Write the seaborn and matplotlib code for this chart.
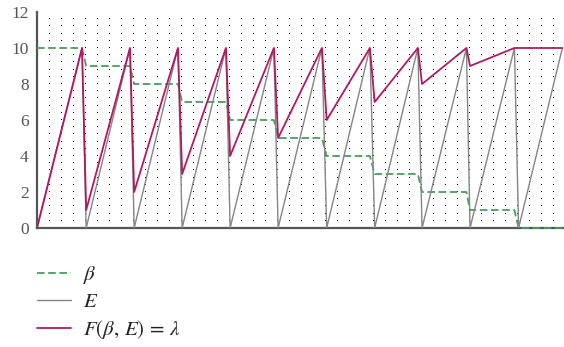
import numpy as np
import pandas as pd
import matplotlib
matplotlib.use("Agg")
import matplotlib.pyplot as plt
import seaborn as sns

# values (x in grid steps, y in units)
time = [0, 3.75, 4.1, 7.75, 8.1, 11.75, 12.1, 15.75, 16.1, 19.75, 20.1,
        23.75, 24.15, 27.75, 28.15, 31.75, 32.1, 35.8, 36.1, 39.8, 40.15, 43.8]
beta = [10, 10, 9, 9, 8, 8, 7, 7, 6, 6, 5, 5, 4, 4, 3, 3, 2, 2, 1, 1, 0, 0]
energy = [0, 10, 0, 10, 0, 10, 0, 10, 0, 10, 0, 10, 0, 10, 0, 10, 0, 10, 0, 10, 0, 10]
lam = [0, 10, 1, 10, 2, 10, 3, 10, 4, 10, 5, 10, 6, 10, 7, 10, 8, 10, 9, 10, 10, 10]
yticks = [0, 2, 4, 6, 8, 10, 12]

df = pd.DataFrame({"t": time, "beta": beta, "E": energy, "F": lam})

sns.set_style("white")
plt.rcParams["font.family"] = ["Liberation Serif", "DejaVu Serif"]
plt.rcParams["mathtext.fontset"] = "stix"

fig = plt.figure(figsize=(5.64, 3.47), dpi=100)
ax = fig.add_axes([37 / 564, 119 / 347, 526 / 564, 216 / 347])

# dot lattice background, one pixel per grid crossing
gx, gy = np.meshgrid(np.arange(1, 44, 1.0), np.arange(0.4, 12.01, 0.4))
ax.plot(gx.ravel(), gy.ravel(), ",", color="#000000", zorder=0)

green = "#4a9e5e"
gray = "#858585"
crimson = "#b11a5f"

sns.lineplot(data=df, x="t", y="beta", ax=ax, color=green, lw=1.3,
             estimator=None, label=r"$\beta$", zorder=3, clip_on=False)
ax.lines[-1].set_dashes((4.2, 2.0))
sns.lineplot(data=df, x="t", y="E", ax=ax, color=gray, lw=1.0,
             estimator=None, label=r"$E$", zorder=3)
sns.lineplot(data=df, x="t", y="F", ax=ax, color=crimson, lw=1.3,
             estimator=None, label=r"$F(\beta,\, E)\, =\, \lambda$", zorder=4)

ax.set_xlim(0, 43.85)
ax.set_ylim(0, 12)
ax.set_xticks([])
ax.set_yticks(yticks)
ax.set_xlabel("")
ax.set_ylabel("")
ax.tick_params(axis="y", length=0, pad=6, labelsize=12.5, labelcolor="#555555")
for side in ["top", "right"]:
    ax.spines[side].set_visible(False)
for side in ["left", "bottom"]:
    ax.spines[side].set_color("#555555")
    ax.spines[side].set_linewidth(1.6)

leg = ax.legend(loc="upper left", bbox_to_anchor=(-0.0155, -0.129), frameon=False,
                fontsize=15, handlelength=1.6, handletextpad=0.6,
                labelspacing=0.3, borderaxespad=0)
for t in leg.get_texts():
    t.set_color("#222222")

fig.savefig("out.png", dpi=100)
